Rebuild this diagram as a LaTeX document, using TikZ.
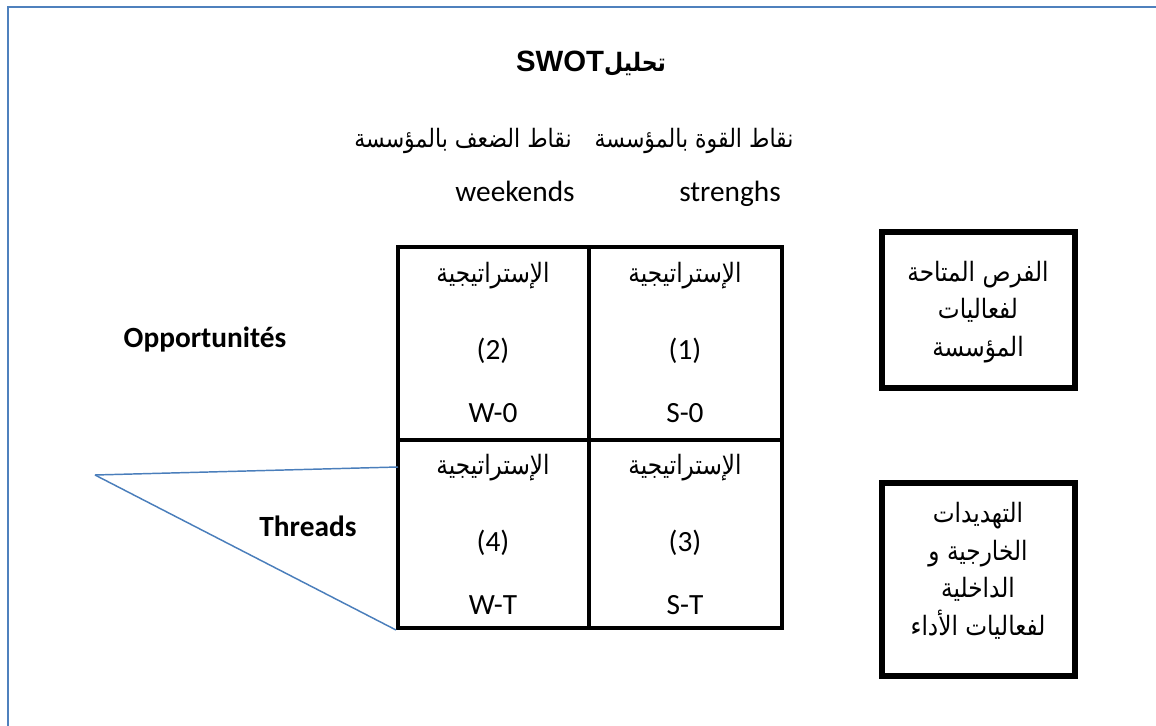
\documentclass[tikz,border=0pt]{standalone}
\usepackage{fontspec}
\setmainfont{Carlito}
\newfontfamily\arabicfont[Script=Arabic, FakeStretch=0.87]{DejaVu Sans}
\newfontfamily\arialfont{Liberation Sans}
\TeXXeTstate=1
\usetikzlibrary{fit}
\definecolor{frameblue}{HTML}{4F81BD}
\definecolor{linkblue}{HTML}{4A7EBB}
% right-to-left Arabic run
\newcommand\ar[1]{{\arabicfont\beginR #1\endR}}

\begin{document}
\begin{tikzpicture}[x=0.375pt,y=-0.375pt,
  lat/.style={font=\fontsize{11}{13}\selectfont, anchor=base, inner sep=0},
  latb/.style={lat, font=\fontsize{11}{13}\selectfont\bfseries},
  arab/.style={font=\arabicfont\fontsize{10}{12}\selectfont, anchor=base, inner sep=0},
  head/.style={arab, font=\arabicfont\fontsize{9.5}{12}\selectfont},
  cell/.style={draw=black, line width=1.5pt, inner sep=0},
  sidebox/.style={draw=black, line width=2.25pt, inner sep=0},
  boxtext/.style={font=\arabicfont\fontsize{10}{14.1}\selectfont, align=center, inner sep=0},
  link/.style={draw=linkblue, line width=0.55pt}]

\useasboundingbox (0,0) rectangle (1156,726);

% page frame (top and left edges only)
\draw[frameblue, line width=0.8pt] (1156,7) -- (8,7) -- (8,726);

% title
\node[anchor=base, inner sep=0, font=\fontsize{11}{13}\selectfont] (title) at (591,72)
  {\arialfont\bfseries SWOT{\arabicfont\fontsize{9.5}{11}\selectfont\beginR\bfseries تحليل\endR}};

% column headings
\node[head] (hw) at (463,148) {\ar{نقاط الضعف بالمؤسسة}};
\node[head] (hs) at (694,148) {\ar{نقاط القوة بالمؤسسة}};
\node[lat] (weekends) at (515,202) {weekends};
\node[lat] (strenghs) at (730,202) {strenghs};

% row headings
\node[latb] (opp) at (205,348) {Opportunités};
\node[latb] (thr) at (308,537) {Threads};

% strategy matrix
\node[cell, fit={(398,247)(589,440)}] (c2) {};
\node[cell, fit={(589,247)(782,440)}] (c1) {};
\node[cell, fit={(398,440)(589,628)}] (c4) {};
\node[cell, fit={(589,440)(782,628)}] (c3) {};

\foreach \c/\x/\y/\n/\t in {c2/493/0/2/W-0, c1/685/0/1/S-0, c4/493/192/4/W-T, c3/685/192/3/S-T}{
  \node[arab] (\c a) at (\x,283+\y) {\ar{الإستراتيجية}};
  \node[lat] (\c n) at (\x,360+\y) {(\n)};
  \node[lat] (\c t) at (\x,423+\y) {\t};
}

% side boxes
\node[sidebox, fit={(882,232)(1075,388)}] (opbox) {};
\node[boxtext] (optext) at (978,312) {\ar{الفرص المتاحة}\\\ar{لفعاليات}\\\ar{المؤسسة}};
\node[sidebox, fit={(882,483)(1075,676)}] (thbox) {};
\node[boxtext] (thtext) at (978,571) {\ar{التهديدات}\\\ar{الخارجية و}\\\ar{الداخلية}\\\ar{لفعاليات الأداء}};

% blue wedge pointing at the threats row
\coordinate (tip) at (95,475);
\coordinate (hend) at (398,467);
\draw[link] (tip) -- (hend);
\draw[link] (tip) -- (c4.south west);

\end{tikzpicture}
\end{document}
